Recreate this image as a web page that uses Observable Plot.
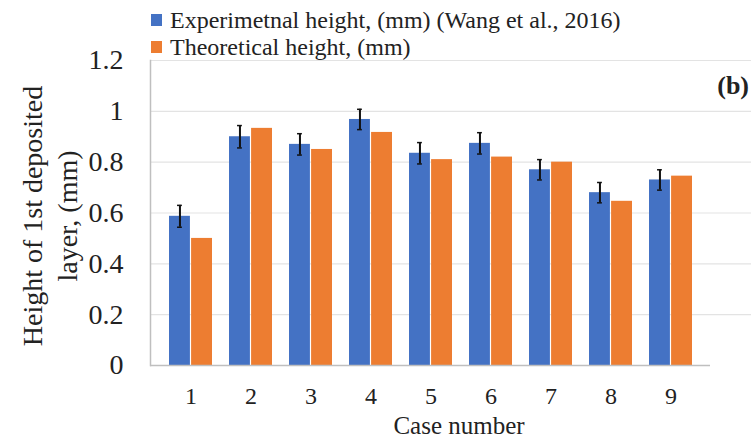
<!DOCTYPE html>
<html>
<head>
<meta charset="utf-8">
<script src="https://cdn.jsdelivr.net/npm/d3@7"></script>
<script src="https://cdn.jsdelivr.net/npm/@observablehq/plot@0.6"></script>
<style>
  html, body { margin: 0; padding: 0; background: #fff; }
  #wrap { position: relative; width: 751px; height: 440px; overflow: hidden; font-family: "Liberation Serif", "DejaVu Serif", serif; color: #222; }
  .lg { position: absolute; left: 151px; height: 26px; font-size: 24px; line-height: 26px; white-space: nowrap; display: flex; align-items: center; }
  .lg span.sw { display: inline-block; width: 11px; height: 12px; margin-right: 8px; }
  #ytitle { position: absolute; left: 50px; top: 216px; transform: translate(-50%, -50%) rotate(-90deg); font-size: 28px; line-height: 35px; text-align: center; white-space: nowrap; }
  #xtitle { position: absolute; left: 459px; top: 425px; transform: translate(-50%, -50%); font-size: 25px; line-height: 27px; white-space: nowrap; }
  #panel { position: absolute; right: 2px; top: 72px; font-size: 26px; line-height: 28px; font-weight: bold; }
  svg { position: absolute; left: 0; top: 0; }
</style>
</head>
<body>
<div id="wrap">
  <div id="chart"></div>
  <div class="lg" style="top:7px"><span class="sw" style="background:#4472C4"></span>Experimetnal height, (mm) (Wang et al., 2016)</div>
  <div class="lg" style="top:34px"><span class="sw" style="background:#ED7D31"></span>Theoretical height, (mm)</div>
  <div id="ytitle">Height of 1st deposited<br>layer, (mm)</div>
  <div id="xtitle">Case number</div>
  <div id="panel">(b)</div>
</div>
<script>
const cases = ["1","2","3","4","5","6","7","8","9"];
const experimental = [0.587, 0.90, 0.87, 0.968, 0.835, 0.874, 0.77, 0.68, 0.73];
const theoretical = [0.50, 0.933, 0.85, 0.917, 0.81, 0.82, 0.80, 0.646, 0.745];
const errors = [0.043, 0.044, 0.042, 0.04, 0.042, 0.042, 0.04, 0.04, 0.04];
const yTicks = [0, 0.2, 0.4, 0.6, 0.8, 1, 1.2];

const expData = cases.map((c, i) => ({case: c, value: experimental[i], lo: experimental[i] - errors[i], hi: experimental[i] + errors[i]}));
const theoData = cases.map((c, i) => ({case: c, value: theoretical[i]}));

const W = 751, H = 440, ML = 150, MR = 41;
const pad = 0.29;
const step = (W - ML - MR) / cases.length;
const bw = step * (1 - pad);
const half = bw / 2;
const FONT = "'Liberation Serif', 'DejaVu Serif', serif";

const chart = Plot.plot({
  width: W,
  height: H,
  marginLeft: ML,
  marginRight: MR,
  marginTop: 60,
  marginBottom: 75,
  style: {fontFamily: FONT, background: "transparent", color: "#222"},
  x: {domain: cases, padding: pad, label: null},
  y: {domain: [0, 1.2], label: null},
  marks: [
    Plot.ruleY(yTicks.slice(1), {stroke: "#e3e3e3", strokeWidth: 1.2, insetRight: -MR}),
    Plot.barY(expData, {x: "case", y: "value", fill: "#4472C4", insetRight: half}),
    Plot.barY(theoData, {x: "case", y: "value", fill: "#ED7D31", insetLeft: half}),
    Plot.ruleX(expData, {x: "case", y1: "lo", y2: "hi", stroke: "#111", strokeWidth: 2, dx: -half / 2}),
    Plot.tickY(expData, {x: "case", y: "lo", stroke: "#111", strokeWidth: 1.5, insetLeft: half / 2 - 3, insetRight: half * 1.5 - 3}),
    Plot.tickY(expData, {x: "case", y: "hi", stroke: "#111", strokeWidth: 1.5, insetLeft: half / 2 - 3, insetRight: half * 1.5 - 3}),
    Plot.ruleY([0], {stroke: "#bfbfbf", strokeWidth: 1.5}),
    Plot.axisY({ticks: yTicks, tickSize: 0, tickPadding: 27, fontSize: 28, fontFamily: FONT, label: null, tickFormat: d3.format("")}),
    Plot.axisX({tickSize: 0, tickPadding: 21, fontSize: 24, fontFamily: FONT, label: null}),
    Plot.frame({anchor: "left", stroke: "#bfbfbf", strokeWidth: 1.5})
  ]
});
document.getElementById("chart").appendChild(chart);
</script>
</body>
</html>
